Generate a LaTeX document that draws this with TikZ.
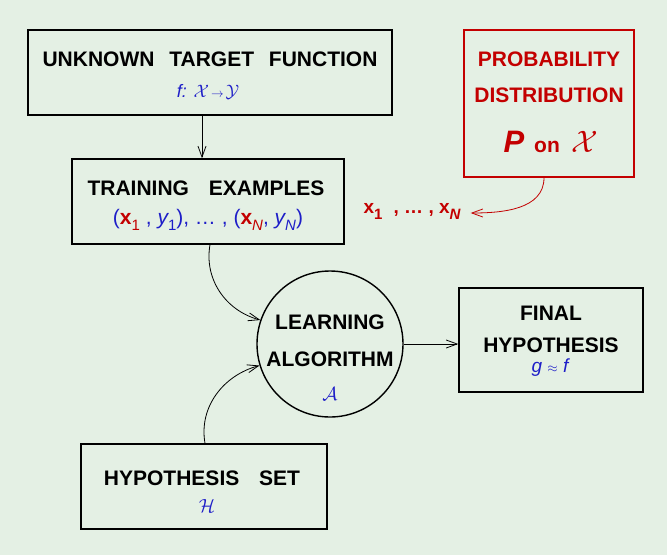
\RequirePackage{fix-cm}
\documentclass[tikz,border=0pt]{standalone}
\usepackage{fontspec}
\setmainfont{Liberation Sans}
\usetikzlibrary{arrows.meta}
\definecolor{bgc}{RGB}{228,240,228}
\definecolor{mblue}{RGB}{30,30,200}
\definecolor{mred}{RGB}{195,0,0}
\newcommand\fs[1]{\fontsize{#1}{#1}\selectfont}
\newcommand\subr[1]{\raisebox{-6pt}{\fs{15}#1}}
\begin{document}
\begin{tikzpicture}[x=1pt,y=-1pt,
  box/.style={draw, line width=1.4pt, inner sep=0pt, rectangle},
  lbl/.style={font=\fs{21}\bfseries, anchor=base, inner sep=0pt},
  conn/.style={line width=0.8pt, -{Straight Barb[length=11pt,width=8pt]}}]
\fill[bgc] (0,0) rectangle (667,555);
\useasboundingbox (0,0) rectangle (667,555);
% boxes
\node[box, minimum width=364pt, minimum height=85pt] (tgt) at (210,72.5) {};
\node[box, minimum width=272pt, minimum height=85pt] (trn) at (208,201.5) {};
\node[box, draw=mred, minimum width=170pt, minimum height=147pt] (prob) at (549,103.5) {};
\node[box, circle, minimum size=146pt] (alg) at (330,344) {};
\node[box, minimum width=184pt, minimum height=104pt] (fin) at (551,340) {};
\node[box, minimum width=246pt, minimum height=85pt] (hyp) at (204,486.5) {};
% texts
\node[lbl] (t1) at (210,66) {UNKNOWN\hspace{9pt} TARGET\hspace{9pt} FUNCTION};
\node[anchor=base, inner sep=0pt, text=mblue, font=\fs{18}] (t2) at (208,97) {\itshape f:\/ \upshape$\mathcal{X}\!\mathrel{\scriptstyle\to}\!\mathcal{Y}$};
\node[lbl] (r1) at (206,195) {TRAINING\hspace{14pt} EXAMPLES};
\node[anchor=base, inner sep=0pt, text=mblue, font=\fs{21}] (r2) at (208,224)
  {({\color{mred}\bfseries x}\subr{\color{mred}1} , {\itshape y}\subr{1}), \dots\ , ({\color{mred}\bfseries x}\subr{\color{mred}\itshape N}, {\itshape y}\subr{\itshape N})};
\node[lbl, text=mred] (p1) at (549,66) {PROBABILITY};
\node[lbl, text=mred] (p2) at (549,102) {DISTRIBUTION};
\node[anchor=base, inner sep=0pt, text=mred] (p3) at (551,152)
  {{\fs{31}\bfseries\itshape P}\hspace{10pt}{\fs{21}\bfseries on}\hspace{12pt}{\fs{31}$\mathcal{X}$}};
\node[anchor=base, inner sep=0pt, text=mred, font=\fs{19}\bfseries] (xl) at (412,213)
  {x\subr{1}\hspace{6pt} , \dots\ , x\subr{\itshape N}};
\node[lbl] (a1) at (330,329) {LEARNING};
\node[lbl] (a2) at (330,366) {ALGORITHM};
\node[anchor=base, inner sep=0pt, text=mblue, font=\fs{19}] (a3) at (330,400) {$\mathcal{A}$};
\node[lbl] (f1) at (551,320) {FINAL};
\node[lbl] (f2) at (551,352) {HYPOTHESIS};
\node[anchor=base, inner sep=0pt, text=mblue, font=\fs{19}] (f3) at (550,372) {\itshape g {\upshape$\scriptstyle\approx$} f};
\node[lbl] (h1) at (202,485) {HYPOTHESIS\hspace{14pt} SET};
\node[anchor=base, inner sep=0pt, text=mblue, font=\fs{19}] (h2) at (207,512) {$\mathcal{H}$};
% connectors
\draw[conn] ([xshift=-8pt]tgt.south) -- ([xshift=-6pt]trn.north);
\draw[conn] ([xshift=2pt]trn.south) to[out=-100, in=165] (alg.161);
\draw[conn] ([xshift=1pt]hyp.north) to[out=100, in=195] (alg.197);
\draw[conn] (alg.east) -- (alg.east -| fin.west);
\draw[conn, draw=mred] ([xshift=-5pt]prob.south) to[out=-90, in=0] ([xshift=10pt]xl.base east);
\end{tikzpicture}
\end{document}
